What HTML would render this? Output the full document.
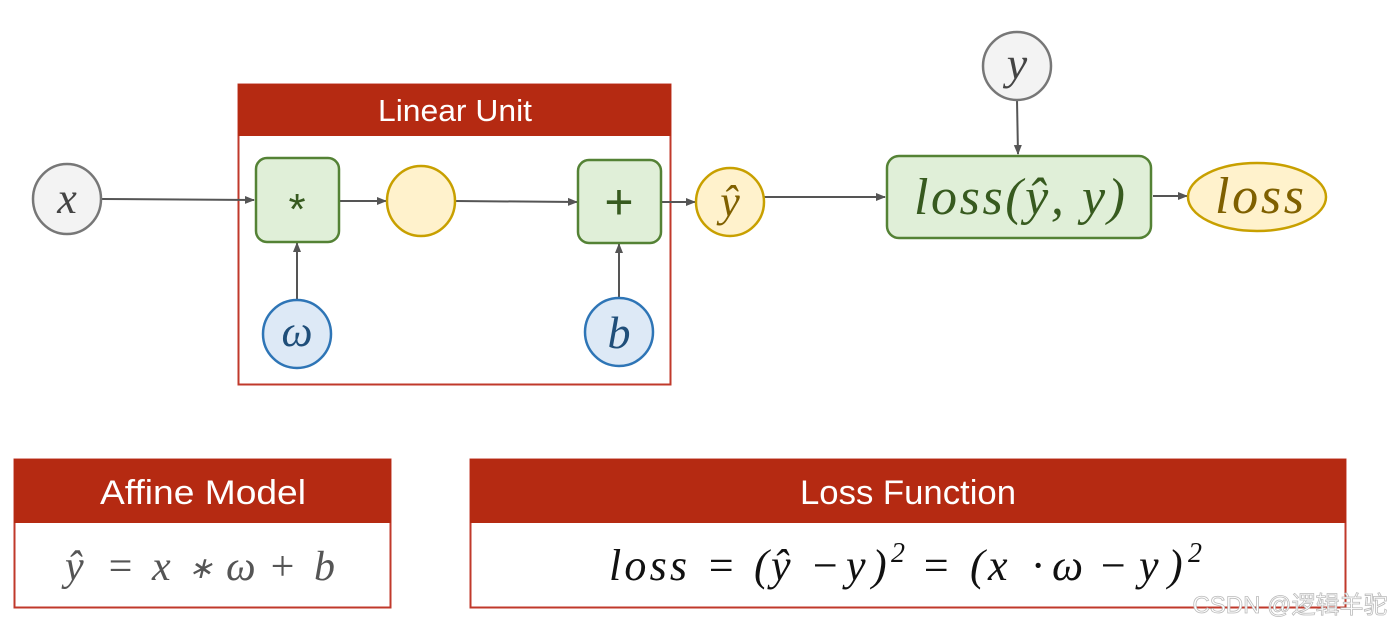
<!DOCTYPE html>
<html><head><meta charset="utf-8"><style>
html,body{margin:0;padding:0;background:#fff;width:1400px;height:630px;overflow:hidden}
svg{display:block}
.m{font-family:"Liberation Serif",serif;font-style:italic}
.h{font-family:"Liberation Sans",sans-serif;fill:#fff}
</style></head><body>
<svg width="1400" height="630" viewBox="0 0 1400 630">
<defs><marker id="a" markerWidth="10" markerHeight="10" refX="9" refY="5" orient="auto" markerUnits="userSpaceOnUse"><path d="M0,1 L10,5 L0,9 Z" fill="#555"/></marker></defs>
<rect x="238.5" y="84.5" width="432" height="300" fill="#fff" stroke="#c0392b" stroke-width="2"/>
<rect x="238" y="84" width="433" height="52" fill="#b52a12"/>
<text x="455" y="121" class="h" font-size="31" text-anchor="middle" textLength="154" lengthAdjust="spacingAndGlyphs">Linear Unit</text>
<g stroke="#555" stroke-width="2" fill="none" marker-end="url(#a)">
<line x1="102" y1="199" x2="254" y2="200"/>
<line x1="339" y1="201" x2="386" y2="201"/>
<line x1="455" y1="201" x2="577" y2="202"/>
<line x1="661" y1="202" x2="695" y2="202"/>
<line x1="297" y1="300" x2="297" y2="243"/>
<line x1="619" y1="297" x2="619" y2="244"/>
<line x1="764" y1="197" x2="885" y2="197"/>
<line x1="1017" y1="100" x2="1018" y2="154"/>
<line x1="1153" y1="196" x2="1187" y2="196"/>
</g>
<ellipse cx="67" cy="199" rx="34" ry="35" fill="#f3f3f3" stroke="#777" stroke-width="2.5"/>
<text x="67" y="213" class="m" font-size="44" fill="#444" text-anchor="middle">x</text>
<rect x="256" y="158" width="83" height="84" rx="11" fill="#e0efd8" stroke="#548235" stroke-width="2.5"/>
<text x="297" y="224" font-family="Liberation Sans,sans-serif" font-size="44" fill="#375a1f" text-anchor="middle">*</text>
<ellipse cx="421" cy="201" rx="34" ry="35" fill="#fff2cc" stroke="#c8a000" stroke-width="2.5"/>
<rect x="578" y="160" width="83" height="83" rx="11" fill="#e0efd8" stroke="#548235" stroke-width="2.5"/>
<text x="619" y="219" font-family="Liberation Sans,sans-serif" font-size="50" fill="#375a1f" text-anchor="middle">+</text>
<ellipse cx="297" cy="334" rx="34" ry="34" fill="#dde9f6" stroke="#2e75b6" stroke-width="2.5"/>
<text x="297" y="346" class="m" font-size="44" fill="#1f4e79" text-anchor="middle">ω</text>
<ellipse cx="619" cy="332" rx="34" ry="34" fill="#dde9f6" stroke="#2e75b6" stroke-width="2.5"/>
<text x="619" y="348" class="m" font-size="46" fill="#1f4e79" text-anchor="middle">b</text>
<ellipse cx="730" cy="202" rx="34" ry="34" fill="#fff2cc" stroke="#c8a000" stroke-width="2.5"/>
<text x="730" y="216" class="m" font-size="44" fill="#7f6000" text-anchor="middle">ŷ</text>
<ellipse cx="1017" cy="66" rx="34" ry="34" fill="#f3f3f3" stroke="#777" stroke-width="2.5"/>
<text x="1017" y="79" class="m" font-size="46" fill="#444" text-anchor="middle">y</text>
<rect x="887" y="156" width="264" height="82" rx="12" fill="#e0efd8" stroke="#548235" stroke-width="2.5"/>
<text x="914" y="214" class="m" font-size="52" fill="#375a1f" textLength="211" lengthAdjust="spacing">loss(ŷ, y)</text>
<ellipse cx="1257" cy="197" rx="69" ry="34" fill="#fff2cc" stroke="#c8a000" stroke-width="2.5"/>
<text x="1215" y="213" class="m" font-size="52" fill="#7f6000" textLength="89" lengthAdjust="spacing">loss</text>
<rect x="14.5" y="459.5" width="376" height="148" fill="#fff" stroke="#c0392b" stroke-width="2"/>
<rect x="14" y="459" width="377" height="64" fill="#b52a12"/>
<text x="203" y="504" class="h" font-size="34" text-anchor="middle" textLength="206" lengthAdjust="spacingAndGlyphs">Affine Model</text>
<text y="580" class="m" font-size="42" fill="#555"><tspan x="65">ŷ</tspan><tspan x="106">=</tspan><tspan x="152">x</tspan><tspan x="188" font-size="30" dy="-2">∗</tspan><tspan x="226" dy="2">ω</tspan><tspan x="268">+</tspan><tspan x="314">b</tspan></text>
<rect x="470.5" y="459.5" width="875" height="148" fill="#fff" stroke="#c0392b" stroke-width="2"/>
<rect x="470" y="459" width="876" height="64" fill="#b52a12"/>
<text x="908" y="504" class="h" font-size="34" text-anchor="middle" textLength="216" lengthAdjust="spacingAndGlyphs">Loss Function</text>
<text y="580" class="m" font-size="44" fill="#111"><tspan x="609" textLength="78" lengthAdjust="spacing">loss</tspan><tspan x="706">=</tspan><tspan x="754">(</tspan><tspan x="771">ŷ</tspan><tspan x="810">−</tspan><tspan x="846">y</tspan><tspan x="872">)</tspan><tspan font-size="28" x="891" dy="-18">2</tspan><tspan x="921" dy="18">=</tspan><tspan x="970">(</tspan><tspan x="988">x</tspan><tspan x="1032">·</tspan><tspan x="1052">ω</tspan><tspan x="1098">−</tspan><tspan x="1139">y</tspan><tspan x="1168">)</tspan><tspan font-size="28" x="1188" dy="-18">2</tspan></text>
<text x="1290" y="613" font-family="Liberation Sans,'Noto Sans CJK SC',sans-serif" font-size="24" fill="#fff" stroke="#bbb" stroke-width="0.8" text-anchor="middle">CSDN @逻辑羊驼</text>
</svg>
</body></html>
